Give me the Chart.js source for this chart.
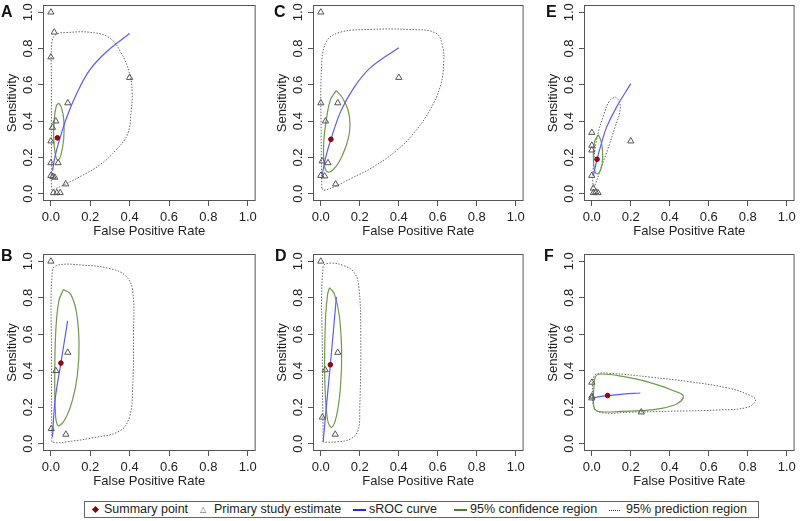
<!DOCTYPE html>
<html>
<head>
<meta charset="utf-8">
<title>sROC plots</title>
<script src="https://cdn.jsdelivr.net/npm/chart.js@4.4.1/dist/chart.umd.min.js"></script>
<style>
  body { margin: 0; background: #fff; font-family: "Liberation Sans", Arial, sans-serif; }
  #page { position: relative; width: 800px; height: 521px; overflow: hidden; background: #fff; }
  .panel { position: absolute; }
  .letter { position: absolute; font-weight: bold; font-size: 16px; line-height: 16px; color: #111; }
  #legend { position: absolute; left: 84px; top: 501px; width: 673px; height: 15px; border: 1px solid #666; }
  #legend span { position: absolute; top: 0; font-size: 12.5px; line-height: 15px; color: #222; white-space: nowrap; }
  #legend .line { top: 7px; width: 13px; height: 0; border-top: 2px solid; }
</style>
</head>
<body>
<div id="page">
  <div id="legend">
    <span style="left: 8px; top: 5px; width: 5px; height: 5px; background: #8b0000; transform: rotate(45deg);"></span>
    <span style="left: 19px;">Summary point</span>
    <span style="left: 115px; font-size: 8px; color: #555;">&#9651;</span>
    <span style="left: 129px;">Primary study estimate</span>
    <span class="line" style="left: 268px; border-color: #2424ff;"></span>
    <span style="left: 284px;">sROC curve</span>
    <span class="line" style="left: 369px; border-color: #4f7d2a;"></span>
    <span style="left: 385px;">95% confidence region</span>
    <span class="line" style="left: 524px; width: 11px; border-top: 1px dotted #333; top: 8px;"></span>
    <span style="left: 541px;">95% prediction region</span>
  </div>
</div>
<script>
// axis ticks used on every panel (both axes)
const tickValues = [0, 0.2, 0.4, 0.6, 0.8, 1.0];

// points as [false positive rate, sensitivity]
// panel A
const studiesA = [[0.0, 1.0], [0.017, 0.89], [0.0, 0.753], [0.40, 0.64], [0.086, 0.50], [0.025, 0.40], [0.008, 0.365], [0.0, 0.29], [0.0, 0.17], [0.037, 0.17], [0.0, 0.10], [0.01, 0.095], [0.02, 0.09], [0.075, 0.053], [0.013, 0.005], [0.03, 0.005], [0.047, 0.005]];
const summaryA = [0.033, 0.308];
const srocA = [[0.008, 0.126], [0.02, 0.2], [0.038, 0.276], [0.08, 0.42], [0.13, 0.55], [0.196, 0.68], [0.28, 0.78], [0.40, 0.883]];
const confA = [[0.04, 0.50], [0.055, 0.47], [0.066, 0.40], [0.065, 0.30], [0.05, 0.21], [0.035, 0.185], [0.022, 0.22], [0.014, 0.31], [0.018, 0.42], [0.028, 0.485], [0.04, 0.50]];
const predA = [[0.003, 0.2], [0.003, 0.6], [0.006, 0.84], [0.03, 0.88], [0.08, 0.888], [0.196, 0.89], [0.296, 0.86], [0.36, 0.77], [0.40, 0.66], [0.413, 0.56], [0.408, 0.46], [0.39, 0.33], [0.33, 0.24], [0.246, 0.157], [0.146, 0.093], [0.063, 0.047], [0.02, 0.026], [0.005, 0.02], [0.003, 0.2]];

// panel B
const studiesB = [[0.0, 1.0], [0.086, 0.50], [0.025, 0.40], [0.002, 0.082], [0.076, 0.051]];
const summaryB = [0.051, 0.442];
const srocB = [[0.008, 0.036], [0.022, 0.245], [0.051, 0.442], [0.085, 0.673]];
const confB = [[0.063, 0.845], [0.1, 0.82], [0.13, 0.72], [0.143, 0.55], [0.135, 0.38], [0.11, 0.24], [0.07, 0.13], [0.035, 0.10], [0.022, 0.2], [0.02, 0.4], [0.025, 0.62], [0.04, 0.78], [0.063, 0.845]];
const predB = [[0.005, 0.01], [0.003, 0.5], [0.008, 0.95], [0.04, 0.98], [0.15, 0.98], [0.3, 0.96], [0.38, 0.92], [0.415, 0.84], [0.42, 0.6], [0.415, 0.3], [0.4, 0.15], [0.35, 0.07], [0.2, 0.03], [0.08, 0.01], [0.03, 0.005], [0.005, 0.01]];

// panel C
const studiesC = [[0.0, 1.0], [0.0, 0.50], [0.087, 0.50], [0.024, 0.40], [0.40, 0.64], [0.007, 0.18], [0.037, 0.17], [0.0, 0.10], [0.02, 0.097], [0.076, 0.053]];
const summaryC = [0.052, 0.30];
const srocC = [[0.008, 0.108], [0.025, 0.2], [0.052, 0.30], [0.104, 0.458], [0.17, 0.585], [0.255, 0.695], [0.40, 0.805]];
const confC = [[0.079, 0.568], [0.11, 0.53], [0.14, 0.46], [0.15, 0.38], [0.14, 0.30], [0.11, 0.21], [0.07, 0.14], [0.035, 0.12], [0.018, 0.16], [0.015, 0.28], [0.03, 0.42], [0.05, 0.52], [0.079, 0.568]];
const predC = [[0.005, 0.03], [0.002, 0.3], [0.004, 0.7], [0.03, 0.84], [0.1, 0.89], [0.25, 0.905], [0.45, 0.905], [0.59, 0.885], [0.625, 0.81], [0.63, 0.72], [0.615, 0.6], [0.558, 0.458], [0.474, 0.33], [0.39, 0.24], [0.27, 0.148], [0.155, 0.084], [0.076, 0.042], [0.02, 0.02], [0.005, 0.03]];

// panel D
const studiesD = [[0.0, 1.0], [0.087, 0.50], [0.023, 0.404], [0.008, 0.145], [0.074, 0.051]];
const summaryD = [0.049, 0.433];
const srocD = [[0.012, 0.009], [0.03, 0.22], [0.049, 0.433], [0.08, 0.805]];
const confD = [[0.045, 0.855], [0.07, 0.82], [0.095, 0.7], [0.107, 0.5], [0.1, 0.3], [0.08, 0.15], [0.055, 0.09], [0.035, 0.13], [0.022, 0.3], [0.02, 0.5], [0.025, 0.7], [0.035, 0.82], [0.045, 0.855]];
const predD = [[0.012, 0.01], [0.008, 0.5], [0.012, 0.97], [0.05, 0.99], [0.12, 0.975], [0.17, 0.94], [0.195, 0.86], [0.205, 0.6], [0.2, 0.2], [0.19, 0.07], [0.15, 0.025], [0.08, 0.01], [0.03, 0.008], [0.012, 0.01]];

// panel E
const studiesE = [[0.0, 0.337], [0.0, 0.266], [0.0, 0.24], [0.20, 0.29], [0.0, 0.10], [0.008, 0.03], [0.008, 0.005], [0.02, 0.01], [0.032, 0.005]];
const summaryE = [0.027, 0.19];
const srocE = [[0.008, 0.10], [0.027, 0.19], [0.05, 0.28], [0.076, 0.367], [0.126, 0.476], [0.20, 0.607]];
const confE = [[0.034, 0.325], [0.05, 0.28], [0.056, 0.2], [0.045, 0.13], [0.025, 0.11], [0.012, 0.14], [0.008, 0.22], [0.015, 0.29], [0.034, 0.325]];
const predE = [[0.12, 0.535], [0.14, 0.51], [0.145, 0.46], [0.12, 0.37], [0.08, 0.24], [0.04, 0.12], [0.015, 0.045], [0.006, 0.04], [0.008, 0.15], [0.025, 0.3], [0.06, 0.43], [0.09, 0.51], [0.12, 0.535]];

// panel F
const studiesF = [[0.0, 0.336], [0.0, 0.26], [0.0, 0.25], [0.254, 0.173]];
const summaryF = [0.081, 0.264];
const srocF = [[0.008, 0.25], [0.04, 0.258], [0.081, 0.264], [0.16, 0.272], [0.249, 0.278]];
const confF = [[0.01, 0.3], [0.02, 0.37], [0.05, 0.382], [0.15, 0.37], [0.3, 0.335], [0.42, 0.29], [0.47, 0.26], [0.43, 0.215], [0.3, 0.185], [0.15, 0.177], [0.05, 0.175], [0.015, 0.19], [0.008, 0.24], [0.01, 0.3]];
const predF = [[0.003, 0.33], [0.02, 0.38], [0.1, 0.385], [0.3, 0.365], [0.5, 0.34], [0.7, 0.305], [0.8, 0.27], [0.84, 0.24], [0.8, 0.2], [0.65, 0.185], [0.4, 0.178], [0.2, 0.173], [0.05, 0.17], [0.01, 0.2], [0.003, 0.33]];

const fontFamily = "'Liberation Sans', Arial, sans-serif";
const yAxisWidth = 43;
const xAxisHeight = 44;

// box = plot frame in page pixels: left, right, top, bottom
const panels = [
    { name: "A", studies: studiesA, summary: summaryA, sroc: srocA, conf: confA, pred: predA, box: [43, 259, 4, 201], letter: [1, 4] },
    { name: "C", studies: studiesC, summary: summaryC, sroc: srocC, conf: confC, pred: predC, box: [313, 527, 4, 201], letter: [274, 4] },
    { name: "E", studies: studiesE, summary: summaryE, sroc: srocE, conf: confE, pred: predE, box: [584, 798, 4, 201], letter: [546, 4] },
    { name: "B", studies: studiesB, summary: summaryB, sroc: srocB, conf: confB, pred: predB, box: [43, 259, 253, 451], letter: [1, 248] },
    { name: "D", studies: studiesD, summary: summaryD, sroc: srocD, conf: confD, pred: predD, box: [313, 527, 253, 451], letter: [275, 248] },
    { name: "F", studies: studiesF, summary: summaryF, sroc: srocF, conf: confF, pred: predF, box: [584, 798, 253, 451], letter: [544, 248] }
];

function toPoints(pairs) {
    return pairs.map(p => ({ x: p[0], y: p[1] }));
}

function setTicks(scale) {
    scale.ticks = tickValues.map(v => ({ value: v }));
}

// frame around the plot region
const boxPlugin = {
    id: "frame",
    afterDraw(chart) {
        const a = chart.chartArea;
        const ctx = chart.ctx;
        ctx.save();
        ctx.strokeStyle = "#555";
        ctx.lineWidth = 1;
        ctx.strokeRect(a.left + 0.5, a.top + 0.5, a.right - a.left - 1, a.bottom - a.top - 1);
        ctx.restore();
    }
};

// y tick labels written upwards like in R
const yLabelsPlugin = {
    id: "yLabels",
    afterDraw(chart) {
        const scale = chart.scales.y;
        const ctx = chart.ctx;
        ctx.save();
        ctx.font = "13px " + fontFamily;
        ctx.fillStyle = "#222";
        ctx.textAlign = "center";
        ctx.textBaseline = "middle";
        tickValues.forEach(v => {
            const y = scale.getPixelForValue(v);
            ctx.save();
            ctx.translate(chart.chartArea.left - 15, y);
            ctx.rotate(-Math.PI / 2);
            ctx.fillText(v.toFixed(1), 0, 0);
            ctx.restore();
        });
        ctx.restore();
    }
};

function drawPanel(p) {
    const page = document.getElementById("page");
    const left = p.box[0] - yAxisWidth;
    const top = p.box[2] - 4;
    const width = Math.min(800 - left, p.box[1] - left + 2);
    const height = p.box[3] - top + xAxisHeight;

    const holder = document.createElement("div");
    holder.className = "panel";
    holder.style.left = left + "px";
    holder.style.top = top + "px";
    const canvas = document.createElement("canvas");
    canvas.width = width;
    canvas.height = height;
    holder.appendChild(canvas);
    page.appendChild(holder);

    const letter = document.createElement("div");
    letter.className = "letter";
    letter.textContent = p.name;
    letter.style.left = p.letter[0] + "px";
    letter.style.top = p.letter[1] + "px";
    page.appendChild(letter);

    const grid = { drawOnChartArea: false, drawTicks: true, tickLength: 5, color: "#555", lineWidth: 1 };

    new Chart(canvas, {
        type: "scatter",
        data: {
            datasets: [
                {
                    label: "Summary point",
                    data: toPoints([p.summary]),
                    pointStyle: "circle",
                    pointRadius: 2.3,
                    backgroundColor: "#9b0a0a",
                    borderColor: "#7a0000",
                    borderWidth: 1
                },
                {
                    label: "Primary study estimate",
                    data: toPoints(p.studies),
                    pointStyle: "triangle",
                    pointRadius: 3.6,
                    backgroundColor: "rgba(255,255,255,0)",
                    borderColor: "#555",
                    borderWidth: 1
                },
                {
                    label: "sROC curve",
                    data: toPoints(p.sroc),
                    showLine: true,
                    pointRadius: 0,
                    borderColor: "#5a5aff",
                    borderWidth: 1.2,
                    tension: 0.4
                },
                {
                    label: "95% confidence region",
                    data: toPoints(p.conf),
                    showLine: true,
                    pointRadius: 0,
                    borderColor: "#6e9a4a",
                    borderWidth: 1.2,
                    tension: 0.4
                },
                {
                    label: "95% prediction region",
                    data: toPoints(p.pred),
                    showLine: true,
                    pointRadius: 0,
                    borderColor: "#666",
                    borderWidth: 1,
                    borderDash: [1.5, 1.5],
                    tension: 0.4
                }
            ]
        },
        options: {
            responsive: false,
            animation: false,
            devicePixelRatio: 1,
            layout: { padding: { top: p.box[2] - top, right: left + width - p.box[1], left: 0, bottom: 0 } },
            plugins: {
                legend: { display: false },
                tooltip: { enabled: false }
            },
            scales: {
                x: {
                    type: "linear",
                    min: -0.04,
                    max: 1.04,
                    afterBuildTicks: setTicks,
                    afterFit: function(scale) { scale.height = xAxisHeight; },
                    grid: grid,
                    border: { display: false },
                    ticks: {
                        font: { size: 13, family: fontFamily },
                        color: "#222",
                        padding: 4,
                        maxRotation: 0,
                        autoSkip: false,
                        callback: v => v.toFixed(1)
                    },
                    title: {
                        display: true,
                        text: "False Positive Rate",
                        font: { size: 13, family: fontFamily },
                        color: "#222",
                        padding: { top: 0, bottom: 6 }
                    }
                },
                y: {
                    type: "linear",
                    min: -0.04,
                    max: 1.04,
                    afterBuildTicks: setTicks,
                    afterFit: function(scale) { scale.width = yAxisWidth; },
                    grid: grid,
                    border: { display: false },
                    ticks: { display: false },
                    title: {
                        display: true,
                        text: "Sensitivity",
                        font: { size: 13, family: fontFamily },
                        color: "#222",
                        padding: { top: 5, bottom: 0 }
                    }
                }
            }
        },
        plugins: [boxPlugin, yLabelsPlugin]
    });
}

panels.forEach(drawPanel);
</script>
</body>
</html>
